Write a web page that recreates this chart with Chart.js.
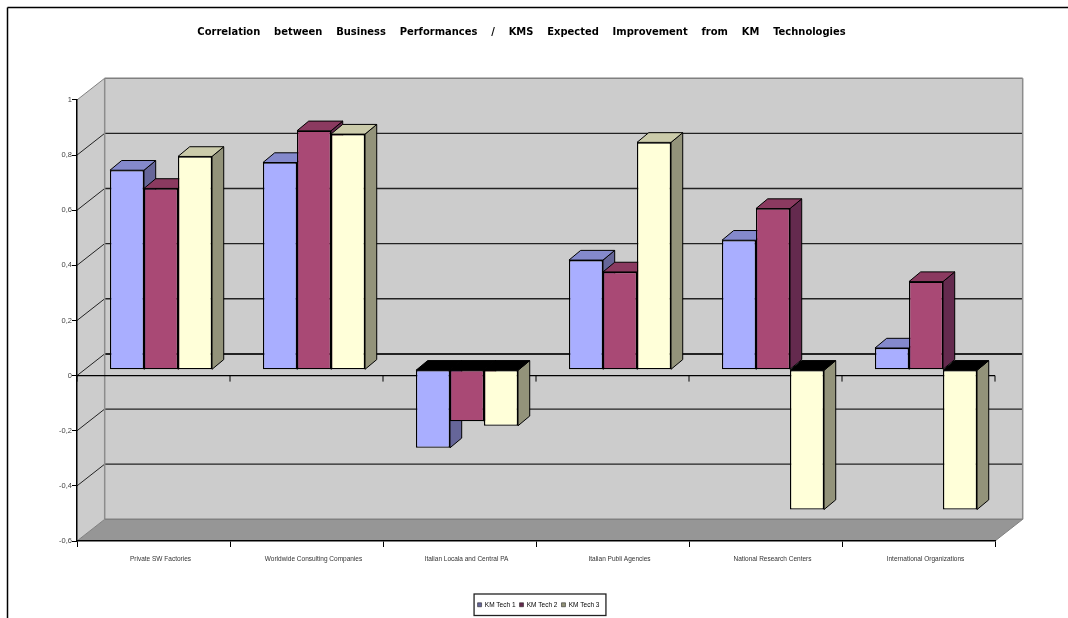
<!DOCTYPE html>
<html>
<head>
<meta charset="utf-8">
<title>KM Technologies</title>
<script src="https://cdn.jsdelivr.net/npm/chart.js@4"></script>
<style>
    html, body { margin: 0; padding: 0; background: #fff; overflow: hidden; }
    canvas { display: block; }
</style>
</head>
<body>
<canvas id="kmChart" width="1068" height="618"></canvas>
<script>
const categories = ['Private SW Factories', 'Worldwide Consulting Companies', 'Italian Locala and Central PA',
    'Italian Publi Agencies', 'National Research Centers', 'International Organizations'];
const tech1 = [0.724, 0.752, -0.283, 0.398, 0.47, 0.079];
const tech2 = [0.658, 0.867, -0.187, 0.355, 0.585, 0.32];
const tech3 = [0.774, 0.855, -0.203, 0.825, -0.507, -0.507];
const yTickLabels = ['-0,6', '-0,4', '-0,2', '0', '0,2', '0,4', '0,6', '0,8', '1'];
const chartTitle = 'Correlation    between    Business    Performances    /    KMS    Expected    Improvement    from    KM    Technologies';

// front, side and top colours of each series
const frontColors = ['#a9aeff', '#a94975', '#ffffd9'];
const sideColors = ['#666699', '#642a4e', '#93937a'];
const topColors = ['#8489cc', '#8b3a60', '#cbcbaa'];

const wallDepth = { x: 27.7, y: -21.7 };
const barShift = { x: 7.5, y: -5.8 };
const barDepth = { x: 11.7, y: -9.7 };

function poly(ctx, points, fill, stroke, lineWidth) {
    ctx.beginPath();
    points.forEach((p, i) => i ? ctx.lineTo(p[0], p[1]) : ctx.moveTo(p[0], p[1]));
    ctx.closePath();
    if (fill) { ctx.fillStyle = fill; ctx.fill(); }
    if (stroke) { ctx.strokeStyle = stroke; ctx.lineWidth = lineWidth || 1; ctx.stroke(); }
}

function line(ctx, x1, y1, x2, y2, color, width) {
    ctx.beginPath();
    ctx.moveTo(x1, y1);
    ctx.lineTo(x2, y2);
    ctx.strokeStyle = color;
    ctx.lineWidth = width;
    ctx.stroke();
}

function centerBlock(block, mid) {
    const half = block.width / 2;
    block.left = mid - half;
    block.right = mid + half;
}

// Walls, floor and page frame go underneath the axes
const wallsPlugin = {
    id: 'walls',
    afterLayout(chart) {
        // title and legend are centred on their own, not on the plot
        centerBlock(chart.titleBlock, 521.5);
        centerBlock(chart.legend, 538.5);
    },
    beforeDraw(chart) {
        const { ctx, chartArea: a, scales: { x, y } } = chart;
        const dx = wallDepth.x, dy = wallDepth.y;
        ctx.save();

        line(ctx, 7.5, 618, 7.5, 7.5, '#000', 1.5);
        line(ctx, 7.5, 7.5, 1068, 7.5, '#000', 1.5);

        poly(ctx, [[a.left + dx, a.top + dy], [a.right + dx, a.top + dy], [a.right + dx, a.bottom + dy], [a.left + dx, a.bottom + dy]], '#cccccc');
        poly(ctx, [[a.left, a.top], [a.left + dx, a.top + dy], [a.left + dx, a.bottom + dy], [a.left, a.bottom]], '#cccccc');
        poly(ctx, [[a.left, a.bottom], [a.right, a.bottom], [a.right + dx, a.bottom + dy], [a.left + dx, a.bottom + dy]], '#969696');

        // grid lines run along the side wall and across the back wall
        y.ticks.forEach(t => {
            const py = y.getPixelForValue(t.value);
            if (Math.abs(t.value - y.max) < 1e-6 || Math.abs(t.value - y.min) < 1e-6) {
                return;
            }
            const zero = Math.abs(t.value) < 1e-6;
            line(ctx, a.left, py, a.left + dx, py + dy, '#222', 1);
            line(ctx, a.left + dx, py + dy, a.right + dx, py + dy, '#222', zero ? 2 : 1.3);
        });

        // wall outline
        line(ctx, a.left, a.top, a.left + dx, a.top + dy, '#808080', 1);
        line(ctx, a.left + dx, a.top + dy, a.right + dx, a.top + dy, '#808080', 1.5);
        line(ctx, a.left + dx, a.top + dy, a.left + dx, a.bottom + dy, '#8c8c8c', 1.5);
        line(ctx, a.right + dx, a.top + dy, a.right + dx, a.bottom + dy, '#8c8c8c', 1.5);
        line(ctx, a.left + dx, a.bottom + dy, a.right + dx, a.bottom + dy, '#808080', 1.5);
        line(ctx, a.left, a.bottom, a.left + dx, a.bottom + dy, '#808080', 1);
        line(ctx, a.right, a.bottom, a.right + dx, a.bottom + dy, '#808080', 1);

        // zero axis with its own tick marks
        const zeroY = y.getPixelForValue(0);
        line(ctx, a.left, zeroY, a.right, zeroY, '#000', 1.3);
        for (let i = 0; i <= categories.length; i++) {
            const px = x.getPixelForValue(i - 0.5);
            line(ctx, px, zeroY, px, zeroY + 6, '#000', 1);
        }
        ctx.restore();
    },
    // later series cover the side of earlier ones, so paint from the first one up
    beforeDatasetsDraw(chart) {
        const { ctx } = chart;
        ctx.save();
        ctx.translate(barShift.x, barShift.y);
        chart.data.datasets.forEach((d, i) => {
            const meta = chart.getDatasetMeta(i);
            meta.data.forEach(el => {
                const left = el.x - el.width / 2;
                const right = el.x + el.width / 2;
                const top = Math.min(el.y, el.base);
                const bottom = Math.max(el.y, el.base);
                const dx = barDepth.x, dy = barDepth.y;
                const hanging = el.y > el.base;
                poly(ctx, [[right, top], [right + dx, top + dy], [right + dx, bottom + dy], [right, bottom]], sideColors[i], '#000', 1);
                poly(ctx, [[left, top], [left + dx, top + dy], [right + dx, top + dy], [right, top]], hanging ? '#000' : topColors[i], '#000', 1);
            });
            meta.controller.draw();
        });
        ctx.restore();
    },
    beforeDatasetDraw() {
        return false;
    },
    afterDraw(chart) {
        const { ctx, legend } = chart;
        const half = legend.lineWidths[0] / 2 + 3;
        ctx.save();
        ctx.strokeStyle = '#222';
        ctx.lineWidth = 1.3;
        ctx.strokeRect(540 - half, 594, half * 2, 21.5);
        ctx.restore();
    }
};

const datasets = [tech1, tech2, tech3].map((values, i) => ({
    label: 'KM Tech ' + (i + 1),
    data: values,
    backgroundColor: frontColors[i],
    borderColor: '#000',
    borderWidth: 1.3,
    borderSkipped: false,
    categoryPercentage: 0.667,
    barPercentage: 1
}));

new Chart(document.getElementById('kmChart'), {
    type: 'bar',
    data: { labels: categories, datasets: datasets },
    plugins: [wallsPlugin],
    options: {
        responsive: false,
        animation: false,
        layout: { padding: { left: 0, right: 73, top: 0, bottom: 0 } },
        plugins: {
            tooltip: { enabled: false },
            title: {
                display: true,
                text: chartTitle,
                color: '#000',
                font: { family: 'DejaVu Sans', size: 9.95, weight: 'bold' },
                padding: { top: 26, bottom: 62 }
            },
            legend: {
                position: 'bottom',
                labels: {
                    color: '#333',
                    font: { family: 'Liberation Sans', size: 6.5 },
                    boxWidth: 4,
                    boxHeight: 4,
                    padding: 4,
                    generateLabels(chart) {
                        return chart.data.datasets.map((d, i) => ({
                            text: d.label, fillStyle: sideColors[i], strokeStyle: '#111',
                            lineWidth: 0.5, datasetIndex: i
                        }));
                    }
                }
            }
        },
        scales: {
            x: {
                offset: true,
                afterFit(scale) { scale.height = 56.5; },
                border: { color: '#000', width: 1.5 },
                grid: { drawOnChartArea: false, tickLength: 6, color: '#000', offset: true },
                ticks: {
                    color: '#333',
                    font: { family: 'Liberation Sans', size: 6.5 },
                    maxRotation: 0,
                    autoSkip: false,
                    labelOffset: 7,
                    padding: 8
                }
            },
            y: {
                min: -0.6,
                max: 1,
                afterFit(scale) { scale.width = 77; },
                border: { color: '#000', width: 1.5 },
                grid: { drawOnChartArea: false, tickLength: 5, color: '#000' },
                ticks: {
                    stepSize: 0.2,
                    color: '#444',
                    font: { family: 'Liberation Sans', size: 7.5 },
                    padding: 0,
                    callback: (value, index) => yTickLabels[index]
                }
            }
        }
    }
});
</script>
</body>
</html>
